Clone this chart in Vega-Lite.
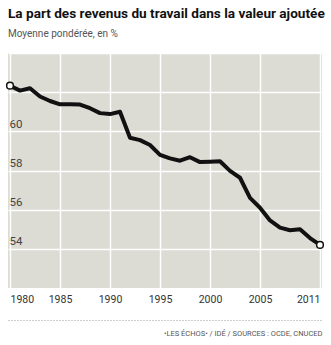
{
  "$schema": "https://vega.github.io/schema/vega-lite/v6.json",
  "width": 314,
  "height": 235,
  "autosize": "none",
  "padding": {"left": 8, "top": 53, "right": 9, "bottom": 57},
  "background": "#ffffff",
  "title": {
    "text": "La part des revenus du travail dans la valeur ajoutée",
    "subtitle": "Moyenne pondérée, en %",
    "anchor": "start",
    "frame": "group",
    "font": "Roboto",
    "fontSize": 13.6,
    "fontWeight": "bold",
    "color": "#111111",
    "subtitleFont": "Roboto",
    "subtitleFontSize": 10,
    "subtitleColor": "#555555",
    "subtitlePadding": 8,
    "offset": 14
  },
  "data": {
    "values": [
      {"year": 1980, "share": 62.33},
      {"year": 1981, "share": 62.08},
      {"year": 1982, "share": 62.2},
      {"year": 1983, "share": 61.78},
      {"year": 1984, "share": 61.55},
      {"year": 1985, "share": 61.38},
      {"year": 1986, "share": 61.38},
      {"year": 1987, "share": 61.37},
      {"year": 1988, "share": 61.18},
      {"year": 1989, "share": 60.93},
      {"year": 1990, "share": 60.88},
      {"year": 1991, "share": 61.0},
      {"year": 1992, "share": 59.67},
      {"year": 1993, "share": 59.55},
      {"year": 1994, "share": 59.3},
      {"year": 1995, "share": 58.8},
      {"year": 1996, "share": 58.62},
      {"year": 1997, "share": 58.5},
      {"year": 1998, "share": 58.68},
      {"year": 1999, "share": 58.43},
      {"year": 2000, "share": 58.45},
      {"year": 2001, "share": 58.47},
      {"year": 2002, "share": 57.98},
      {"year": 2003, "share": 57.63},
      {"year": 2004, "share": 56.6},
      {"year": 2005, "share": 56.1},
      {"year": 2006, "share": 55.45},
      {"year": 2007, "share": 55.08},
      {"year": 2008, "share": 54.95},
      {"year": 2009, "share": 55.0},
      {"year": 2010, "share": 54.55},
      {"year": 2011, "share": 54.2}
    ]
  },
  "encoding": {
    "x": {
      "field": "year",
      "type": "quantitative",
      "scale": {"domain": [1979.8, 2011.2], "nice": false, "zero": false},
      "axis": {
        "values": [1980, 1985, 1990, 1995, 2000, 2005, 2011],
        "format": "d",
        "offset": 32,
        "domain": true,
        "domainDash": [1, 2],
        "domainColor": "#9a9a9a",
        "domainWidth": 1,
        "ticks": false,
        "tickSize": 0,
        "labelPadding": -26,
        "labelBaseline": "top",
        "labelFlush": false,
        "labelAlign": {
          "condition": [
            {"test": "datum.value == 1980", "value": "left"},
            {"test": "datum.value == 2011", "value": "right"}
          ],
          "value": "center"
        },
        "labelFont": "Roboto",
        "labelFontSize": 10.5,
        "labelColor": "#333333",
        "grid": true,
        "gridColor": "#ffffff",
        "gridWidth": 1.5,
        "title": "•LES ÉCHOS• / IDÉ / SOURCES : OCDE, CNUCED",
        "titleFont": "Roboto",
        "titleFontSize": 7.5,
        "titleFontWeight": "normal",
        "titleColor": "#555555",
        "titleAnchor": "end",
        "titleAlign": "right",
        "titlePadding": 9
      }
    },
    "y": {
      "field": "share",
      "type": "quantitative",
      "scale": {"domain": [52, 64], "nice": false, "zero": false},
      "axis": {
        "values": [54, 56, 58, 60, 62, 64],
        "labelExpr": "datum.value >= 54 && datum.value <= 60 ? datum.label : ''",
        "domain": false,
        "ticks": false,
        "labelAlign": "left",
        "labelPadding": -1,
        "labelBaseline": "bottom",
        "labelOffset": -2,
        "labelFont": "Roboto",
        "labelFontSize": 11.5,
        "labelColor": "#444444",
        "grid": true,
        "gridColor": "#ffffff",
        "gridWidth": 1.5,
        "title": null
      }
    }
  },
  "layer": [
    {
      "mark": {"type": "line", "color": "#111111", "strokeWidth": 4, "strokeJoin": "round", "strokeCap": "round"}
    },
    {
      "transform": [{"filter": "datum.year == 1980 || datum.year == 2011"}],
      "mark": {"type": "point", "shape": "circle", "filled": true, "fill": "#ffffff", "stroke": "#111111", "strokeWidth": 1.5, "size": 45, "opacity": 1}
    }
  ],
  "config": {
    "view": {"fill": "#dcdcd4", "stroke": null}
  }
}
